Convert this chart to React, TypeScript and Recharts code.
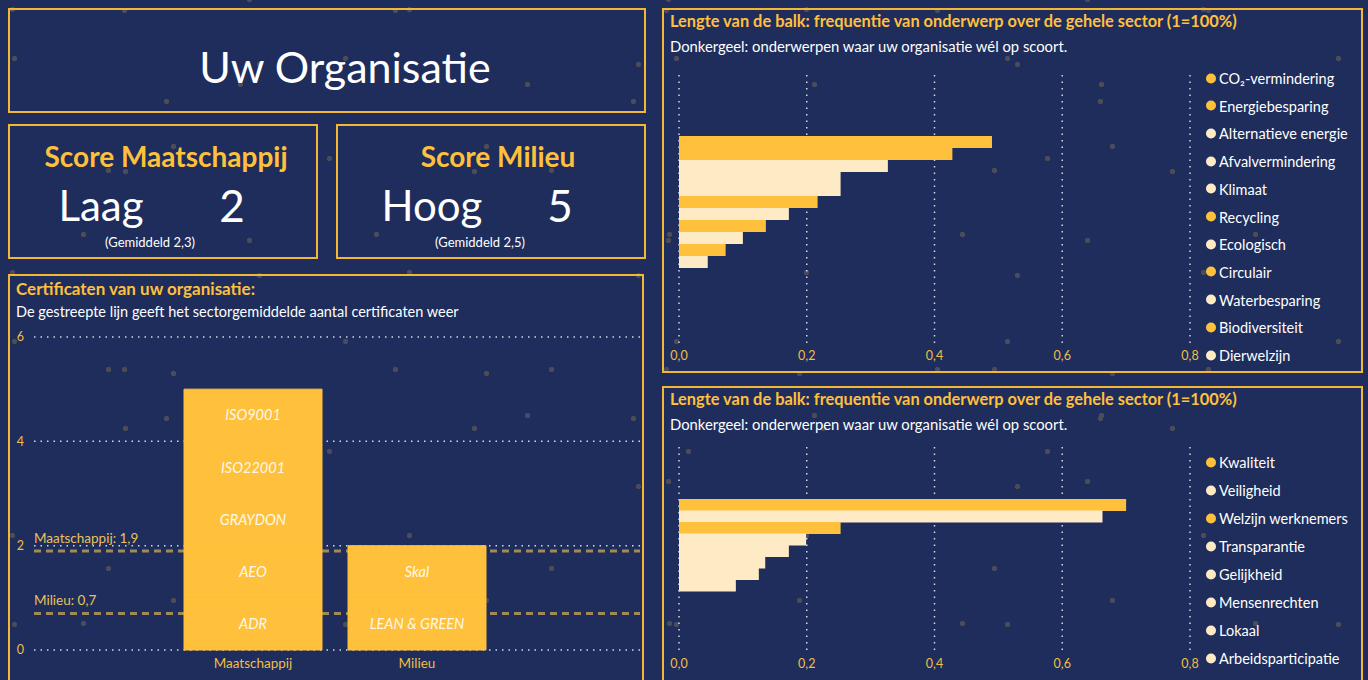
import React from 'react'
import {
  BarChart,
  Bar,
  Cell,
  XAxis,
  YAxis,
  CartesianGrid,
  ReferenceLine,
  LabelList,
} from 'recharts'

const scoreTitles = ['Score Maatschappij', 'Score Milieu']
const scoreLevels = ['Laag', 'Hoog']
const scoreValues = [2, 5]
const scoreAverages = ['2,3', '2,5']

const certCategories = ['Maatschappij', 'Milieu']
const certsMaatschappij = ['ADR', 'AEO', 'GRAYDON', 'ISO22001', 'ISO9001']
const certsMilieu = ['LEAN & GREEN', 'Skal']
const sectorAverageLabels = ['Maatschappij', 'Milieu']
const sectorAverages = [1.9, 0.7]
const certTicks = [0, 2, 4, 6]

const milieuTopics = [
  'CO₂-vermindering',
  'Energiebesparing',
  'Alternatieve energie',
  'Afvalvermindering',
  'Klimaat',
  'Recycling',
  'Ecologisch',
  'Circulair',
  'Waterbesparing',
  'Biodiversiteit',
  'Dierwelzijn',
]
const milieuFrequency = [0.49, 0.428, 0.327, 0.253, 0.253, 0.217, 0.172, 0.136, 0.1, 0.073, 0.045]
const milieuScored = [true, true, false, false, false, true, false, true, false, true, false]

const maatschappijTopics = [
  'Kwaliteit',
  'Veiligheid',
  'Welzijn werknemers',
  'Transparantie',
  'Gelijkheid',
  'Mensenrechten',
  'Lokaal',
  'Arbeidsparticipatie',
]
const maatschappijFrequency = [0.7, 0.663, 0.253, 0.199, 0.172, 0.135, 0.125, 0.089]
const maatschappijScored = [true, false, true, false, false, false, false, false]

const frequencyTicks = [0, 0.2, 0.4, 0.6, 0.8]

const BG = '#1e2d5c'
const YELLOW = '#ffc03c'
const CREAM = '#feeac5'
const BORDER = '#f2b735'
const AXIS_YELLOW = '#f1bd45'
const GRID = '#d6d9e4'
const FONT = 'Lato, "Noto Sans", sans-serif'

const comma = (v: number, digits = 1) => v.toFixed(digits).replace('.', ',')

const certRows = certCategories.map((name, ci) => {
  const certs = ci === 0 ? certsMaatschappij : certsMilieu
  const row: Record<string, string | number | undefined> = { name }
  for (let i = 0; i < 5; i++) {
    row[`c${i}`] = certs[i] ? 1 : undefined
    row[`n${i}`] = certs[i]
  }
  return row
})

// decorative background specks (size / offset of each repeating layer)
const specks = [
  ['313px 227px', '17px 33px'],
  ['397px 263px', '211px 141px'],
  ['287px 331px', '97px 250px'],
  ['443px 199px', '330px 71px'],
  ['359px 293px', '150px 12px'],
  ['271px 359px', '260px 190px'],
  ['419px 241px', '40px 120px'],
  ['331px 283px', '180px 200px'],
  ['467px 317px', '400px 260px'],
  ['379px 211px', '70px 170px'],
  ['293px 389px', '230px 40px'],
  ['349px 257px', '300px 300px'],
]

function Box({ left, top, width, height }: { left: number; top: number; width: number; height: number }) {
  return (
    <div
      style={{
        position: 'absolute',
        left,
        top,
        width,
        height,
        boxSizing: 'border-box',
        border: `2px solid ${BORDER}`,
      }}
    />
  )
}

function Txt({
  x,
  y,
  size,
  children,
  color = '#fff',
  weight = 400,
  anchor = 'center',
}: {
  x: number
  y: number
  size: number
  children: React.ReactNode
  color?: string
  weight?: number
  anchor?: 'start' | 'center'
}) {
  return (
    <div
      style={{
        position: 'absolute',
        left: x,
        top: y,
        transform: anchor === 'center' ? 'translate(-50%, -50%)' : 'translate(0, -50%)',
        whiteSpace: 'nowrap',
        fontSize: size,
        fontWeight: weight,
        color,
        lineHeight: 1,
      }}
    >
      {children}
    </div>
  )
}

function ScoreBox({ index, left }: { index: number; left: number }) {
  const levelX = [101, 432][index]
  const valueX = [232, 560][index]
  const titleX = [166, 498][index]
  const avgX = [150, 480][index]
  return (
    <>
      <Box left={left} top={124} width={310} height={135} />
      <Txt x={titleX} y={156} size={28} weight={700} color={YELLOW}>
        {scoreTitles[index]}
      </Txt>
      <Txt x={levelX} y={205} size={42}>
        {scoreLevels[index]}
      </Txt>
      <Txt x={valueX} y={205} size={44}>
        {scoreValues[index]}
      </Txt>
      <Txt x={avgX} y={242} size={13}>
        (Gemiddeld {scoreAverages[index]})
      </Txt>
    </>
  )
}

function TopicLegend({ topics, scored, top, step }: { topics: string[]; scored: boolean[]; top: number; step: number }) {
  return (
    <>
      {topics.map((t, i) => (
        <div
          key={t}
          style={{
            position: 'absolute',
            left: 1206,
            top: top + i * step,
            transform: 'translate(0, -50%)',
            display: 'flex',
            alignItems: 'center',
            fontSize: 14.5,
            color: '#fff',
            whiteSpace: 'nowrap',
          }}
        >
          <span
            style={{
              width: 10,
              height: 10,
              borderRadius: 5,
              background: scored[i] ? YELLOW : CREAM,
              marginRight: 3,
            }}
          />
          {t}
        </div>
      ))}
    </>
  )
}

function FrequencyChart({
  top,
  height,
  bottom,
  topics,
  values,
  scored,
  padTop,
  padBottom,
  tickMargin,
}: {
  top: number
  height: number
  bottom: number
  topics: string[]
  values: number[]
  scored: boolean[]
  padTop: number
  padBottom: number
  tickMargin: number
}) {
  const data = topics.map((name, i) => ({ name, value: values[i] }))
  return (
    <div style={{ position: 'absolute', left: 662, top }}>
      <BarChart
        width={700}
        height={height}
        data={data}
        layout="vertical"
        margin={{ top: 15, right: 172, bottom, left: 17 }}
        barCategoryGap={0}
        barGap={0}
      >
        <CartesianGrid horizontal={false} stroke={GRID} strokeWidth={1.5} strokeDasharray="1.5 5" />
        <XAxis
          type="number"
          domain={[0, 0.8]}
          ticks={frequencyTicks}
          tickFormatter={(v: number) => comma(v)}
          axisLine={false}
          tickLine={false}
          tickSize={0}
          tickMargin={tickMargin}
          height={22}
          tick={{ fill: AXIS_YELLOW, fontSize: 12.5, fontFamily: FONT }}
        />
        <YAxis type="category" dataKey="name" hide padding={{ top: padTop, bottom: padBottom }} />
        <Bar dataKey="value" isAnimationActive={false}>
          {data.map((d, i) => (
            <Cell key={d.name} fill={scored[i] ? YELLOW : CREAM} />
          ))}
        </Bar>
      </BarChart>
    </div>
  )
}

function CertificateChart() {
  return (
    <div style={{ position: 'absolute', left: 0, top: 320 }}>
      <BarChart width={660} height={360} data={certRows} margin={{ top: 17, right: 20, bottom: 6, left: 8 }}>
        <CartesianGrid vertical={false} stroke={GRID} strokeWidth={1.5} strokeDasharray="1.5 5" />
        <XAxis
          dataKey="name"
          axisLine={false}
          tickLine={false}
          tickSize={0}
          tickMargin={8}
          height={24}
          padding={{ left: 137, right: 141 }}
          tick={{ fill: AXIS_YELLOW, fontSize: 13.5, fontFamily: FONT }}
        />
        <YAxis
          domain={[0, 6]}
          ticks={certTicks}
          axisLine={false}
          tickLine={false}
          tickSize={0}
          tickMargin={10}
          width={26}
          tick={{ fill: AXIS_YELLOW, fontSize: 12.5, fontFamily: FONT }}
        />
        {sectorAverages.map((v, i) => (
          <ReferenceLine
            key={sectorAverageLabels[i]}
            y={v}
            stroke="#a08a58"
            strokeWidth={3}
            strokeDasharray="7 5"
            zIndex={250}
            label={(p: any) => (
              <text x={p.viewBox.x} y={p.viewBox.y - 8} fill="#e9c15a" fontSize={13.5} fontFamily={FONT}>
                {`${sectorAverageLabels[i]}: ${comma(v)}`}
              </text>
            )}
          />
        ))}
        {[0, 1, 2, 3, 4].map((i) => (
          <Bar
            key={i}
            dataKey={`c${i}`}
            stackId="certs"
            fill={YELLOW}
            stroke={YELLOW}
            strokeWidth={1}
            barSize={138}
            isAnimationActive={false}
          >
            <LabelList
              dataKey={`n${i}`}
              position="center"
              fill="#fff8ea"
              fontSize={14.5}
              fontStyle="italic"
              fontFamily={FONT}
            />
          </Bar>
        ))}
      </BarChart>
    </div>
  )
}

export default function App() {
  return (
    <div
      style={{
        position: 'absolute',
        left: 0,
        top: 0,
        width: 1368,
        height: 680,
        overflow: 'hidden',
        fontFamily: FONT,
        backgroundColor: BG,
        backgroundImage: specks
          .map(() => 'radial-gradient(circle, #4b4c57 0, #4b4c57 2.3px, rgba(75,76,87,0) 3px)')
          .join(', '),
        backgroundSize: specks.map((d) => d[0]).join(', '),
        backgroundPosition: specks.map((d) => d[1]).join(', '),
      }}
    >
      <Box left={8} top={8} width={638} height={105} />
      <Txt x={345} y={66} size={43}>
        Uw Organisatie
      </Txt>

      <ScoreBox index={0} left={8} />
      <ScoreBox index={1} left={336} />

      <Box left={8} top={274} width={636} height={430} />
      <Txt x={16} y={288} size={17} weight={700} color={YELLOW} anchor="start">
        Certificaten van uw organisatie:
      </Txt>
      <Txt x={16} y={312} size={14.5} anchor="start">
        De gestreepte lijn geeft het sectorgemiddelde aantal certificaten weer
      </Txt>
      <CertificateChart />

      <Box left={662} top={8} width={701} height={365} />
      <Txt x={670} y={21} size={16.4} weight={700} color={YELLOW} anchor="start">
        Lengte van de balk: frequentie van onderwerp over de gehele sector (1=100%)
      </Txt>
      <Txt x={670} y={46} size={14.8} anchor="start">
        Donkergeel: onderwerpen waar uw organisatie wél op scoort.
      </Txt>
      <FrequencyChart
        top={60}
        height={312}
        bottom={5}
        topics={milieuTopics}
        values={milieuFrequency}
        scored={milieuScored}
        padTop={61}
        padBottom={77}
        tickMargin={6}
      />
      <TopicLegend topics={milieuTopics} scored={milieuScored} top={78} step={27.7} />

      <Box left={662} top={386} width={701} height={320} />
      <Txt x={670} y={399} size={16.4} weight={700} color={YELLOW} anchor="start">
        Lengte van de balk: frequentie van onderwerp over de gehele sector (1=100%)
      </Txt>
      <Txt x={670} y={424} size={14.8} anchor="start">
        Donkergeel: onderwerpen waar uw organisatie wél op scoort.
      </Txt>
      <FrequencyChart
        top={432}
        height={248}
        bottom={6}
        topics={maatschappijTopics}
        values={maatschappijFrequency}
        scored={maatschappijScored}
        padTop={52}
        padBottom={61}
        tickMargin={7}
      />
      <TopicLegend topics={maatschappijTopics} scored={maatschappijScored} top={462} step={28} />
    </div>
  )
}
